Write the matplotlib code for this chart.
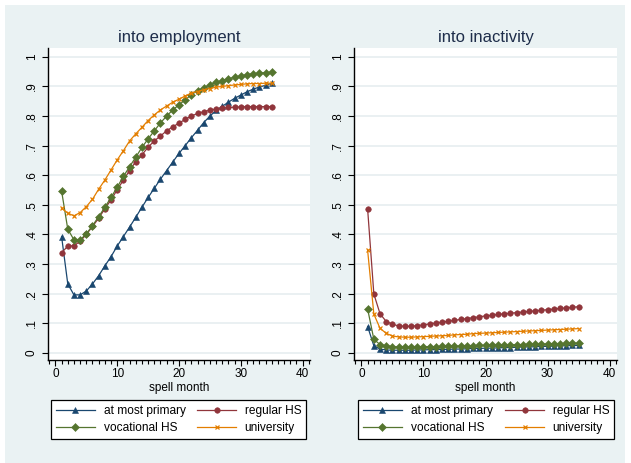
#!/usr/bin/env python3
import matplotlib
matplotlib.use("Agg")
import matplotlib.pyplot as plt
from matplotlib.patches import Rectangle
from matplotlib.ticker import MultipleLocator

plt.rcParams['font.family'] = ['Liberation Sans', 'DejaVu Sans']

months = list(range(1, 36))
groups = ["at most primary", "regular HS", "vocational HS", "university"]
yticks = [0, .1, .2, .3, .4, .5, .6, .7, .8, .9, 1]
ytick_labels = ["0", ".1", ".2", ".3", ".4", ".5", ".6", ".7", ".8", ".9", "1"]

# into employment
emp_primary = [0.393, 0.233, 0.196, 0.196, 0.209, 0.233, 0.261, 0.294, 0.325, 0.361,
               0.393, 0.425, 0.458, 0.492, 0.525, 0.556, 0.587, 0.616, 0.645, 0.674,
               0.700, 0.727, 0.752, 0.778, 0.800, 0.819, 0.833, 0.847, 0.860, 0.871,
               0.882, 0.891, 0.898, 0.904, 0.911]
emp_regular = [0.338, 0.361, 0.362, 0.377, 0.400, 0.427, 0.455, 0.487, 0.517, 0.551,
               0.584, 0.616, 0.646, 0.669, 0.695, 0.716, 0.733, 0.750, 0.764, 0.776,
               0.789, 0.800, 0.809, 0.815, 0.820, 0.824, 0.827, 0.829, 0.830, 0.831,
               0.832, 0.832, 0.832, 0.832, 0.832]
emp_vocational = [0.547, 0.418, 0.382, 0.382, 0.402, 0.430, 0.460, 0.492, 0.525, 0.560,
                  0.596, 0.629, 0.661, 0.694, 0.723, 0.750, 0.777, 0.800, 0.821, 0.838,
                  0.855, 0.872, 0.886, 0.896, 0.905, 0.914, 0.920, 0.926, 0.931, 0.936,
                  0.940, 0.943, 0.945, 0.947, 0.948]
emp_university = [0.489, 0.472, 0.463, 0.474, 0.494, 0.519, 0.553, 0.584, 0.618, 0.652,
                  0.683, 0.716, 0.740, 0.762, 0.785, 0.804, 0.821, 0.834, 0.847, 0.857,
                  0.868, 0.877, 0.883, 0.889, 0.893, 0.898, 0.900, 0.903, 0.905, 0.907,
                  0.909, 0.910, 0.910, 0.911, 0.911]

# into inactivity
ina_primary = [0.089, 0.024, 0.013, 0.010, 0.009, 0.009, 0.009, 0.009, 0.010, 0.010,
               0.011, 0.011, 0.012, 0.012, 0.013, 0.013, 0.014, 0.015, 0.015, 0.016,
               0.016, 0.017, 0.018, 0.018, 0.019, 0.020, 0.020, 0.021, 0.022, 0.022,
               0.023, 0.024, 0.024, 0.025, 0.025]
ina_regular = [0.485, 0.199, 0.132, 0.106, 0.097, 0.091, 0.090, 0.090, 0.092, 0.095,
               0.098, 0.101, 0.104, 0.107, 0.110, 0.113, 0.116, 0.119, 0.122, 0.125,
               0.127, 0.130, 0.132, 0.134, 0.136, 0.138, 0.140, 0.142, 0.144, 0.146,
               0.148, 0.150, 0.152, 0.154, 0.156]
ina_vocational = [0.148, 0.046, 0.028, 0.024, 0.021, 0.020, 0.020, 0.020, 0.020, 0.021,
                  0.021, 0.021, 0.022, 0.022, 0.023, 0.023, 0.024, 0.024, 0.025, 0.025,
                  0.026, 0.026, 0.027, 0.027, 0.028, 0.028, 0.029, 0.029, 0.030, 0.030,
                  0.031, 0.031, 0.032, 0.032, 0.033]
ina_university = [0.346, 0.131, 0.083, 0.066, 0.057, 0.054, 0.053, 0.053, 0.054, 0.055,
                  0.056, 0.057, 0.058, 0.059, 0.061, 0.062, 0.063, 0.065, 0.066, 0.067,
                  0.068, 0.069, 0.070, 0.071, 0.072, 0.073, 0.074, 0.075, 0.076, 0.077,
                  0.078, 0.079, 0.080, 0.081, 0.082]

# stata s2color
colors = ["#1a476f", "#90353b", "#55752f", "#e37e00"]
markers = ["^", "o", "D", "x"]
msizes = [4.3, 4.0, 3.8, 2.5]
BG = "#eaf2f3"

W, H = 631, 463


def panel(ax, series, title):
    for ys, lab, c, m, ms in zip(series, groups, colors, markers, msizes):
        ax.plot(months, ys, color=c, marker=m, markersize=ms, lw=0.9,
                markeredgewidth=0.9 if m == "x" else 0.4, label=lab)
    ax.set_facecolor("white")
    ax.set_xlim(-1.2, 41.2)
    ax.set_ylim(-0.024, 1.03)
    ax.set_xticks([0, 10, 20, 30, 40])
    ax.xaxis.set_minor_locator(MultipleLocator(1))
    ax.set_yticks(yticks)
    ax.set_yticklabels(ytick_labels, rotation=90, va="center")
    ax.grid(axis="y", color="#e6eef0", lw=1.2)
    ax.set_axisbelow(True)
    for s in ["top", "right"]:
        ax.spines[s].set_visible(False)
    for s in ["left", "bottom"]:
        ax.spines[s].set_linewidth(1.0)
    ax.tick_params(axis="both", which="major", labelsize=8.5, color="black",
                   length=4.5, width=0.8)
    ax.tick_params(axis="x", which="minor", length=3, width=0.8)
    ax.tick_params(axis="x", pad=1.5)
    ax.tick_params(axis="y", pad=3)
    ax.set_xlabel("spell month", fontsize=8.5, labelpad=1)
    ax.set_title(title, fontsize=12, color="#1e2d4a", pad=4)


fig = plt.figure(figsize=(W / 100, H / 100), dpi=100)
fig.patch.set_facecolor("white")
fig.patches.append(Rectangle((5 / W, 0), 620 / W, 1 - 5 / H, transform=fig.transFigure,
                             facecolor=BG, edgecolor="none", zorder=-10))

ax1 = fig.add_axes([48 / W, 1 - 360 / H, 262 / W, 312 / H])
ax2 = fig.add_axes([354 / W, 1 - 360 / H, 263 / W, 312 / H])

panel(ax1, [emp_primary, emp_regular, emp_vocational, emp_university], "into employment")
panel(ax2, [ina_primary, ina_regular, ina_vocational, ina_university], "into inactivity")

for ax, x0, x1 in [(ax1, 51, 306), (ax2, 358, 614)]:
    h, l = ax.get_legend_handles_labels()
    order = [0, 2, 1, 3]
    leg = ax.legend([h[i] for i in order], [l[i] for i in order], ncol=2,
                    loc="center", mode="expand",
                    bbox_to_anchor=(x0 / W, 1 - 440 / H, (x1 - x0) / W, 41 / H),
                    bbox_transform=fig.transFigure, borderaxespad=0,
                    fontsize=8.6, handlelength=3.3, labelspacing=0.45,
                    handletextpad=0.7, fancybox=False, framealpha=1,
                    edgecolor="black", borderpad=0.4)
    leg.get_frame().set_linewidth(0.9)

fig.savefig("out.png", dpi=100, facecolor=fig.get_facecolor())
